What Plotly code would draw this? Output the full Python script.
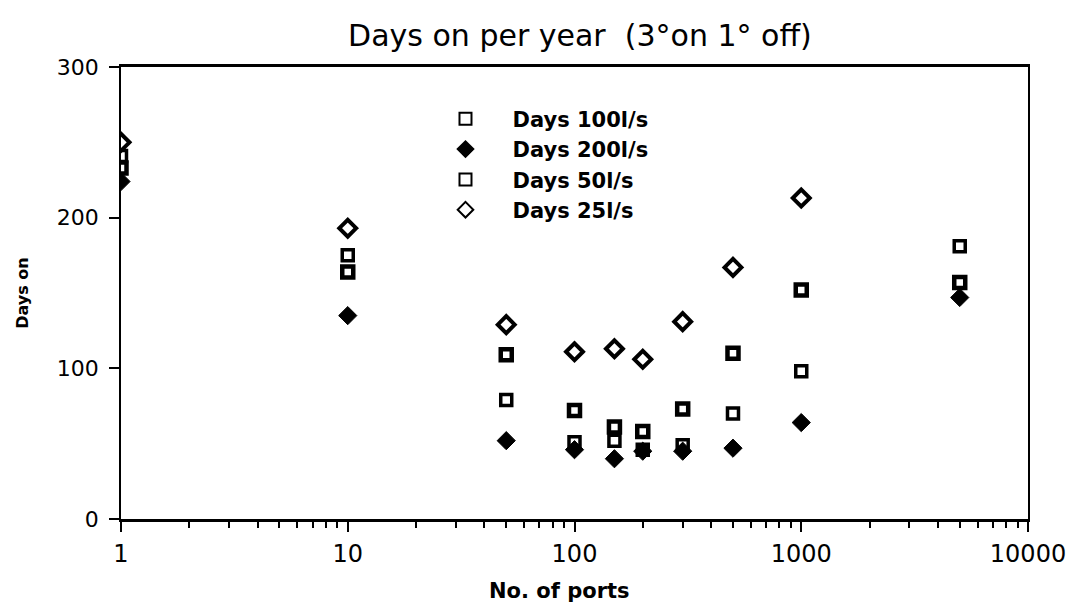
import plotly.graph_objects as go

ports = [1, 10, 50, 100, 150, 200, 300, 500, 1000, 5000]
days_100 = [241, 175, 79, 51, 52, 46, 49, 70, 98, 181]
days_200 = [224, 135, 52, 46, 40, 45, 45, 47, 64, 147]
days_50 = [233, 164, 109, 72, 61, 58, 73, 110, 152, 157]
days_25 = [250, 193, 129, 111, 113, 106, 131, 167, 213, None]

x_ticks = [1, 10, 100, 1000, 10000]
x_ticklabels = ["1", "10", "100", "1000", "10000"]
y_ticks = [0, 100, 200, 300]

font_family = "DejaVu Sans, Liberation Sans, Arial, sans-serif"

fig = go.Figure()
fig.add_trace(go.Scatter(
    x=ports, y=days_100, mode="markers", name="Days 100l/s",
    marker=dict(symbol="square", size=11, color="white",
                line=dict(color="black", width=3.5))))
fig.add_trace(go.Scatter(
    x=ports, y=days_200, mode="markers", name="Days 200l/s",
    marker=dict(symbol="diamond", size=14, color="black",
                line=dict(color="black", width=1))))
fig.add_trace(go.Scatter(
    x=ports, y=days_50, mode="markers", name="Days 50l/s",
    marker=dict(symbol="square", size=11, color="white",
                line=dict(color="black", width=4.5))))
fig.add_trace(go.Scatter(
    x=ports, y=days_25, mode="markers", name="Days 25l/s",
    marker=dict(symbol="diamond", size=13, color="white",
                line=dict(color="black", width=4))))

fig.update_layout(
    width=1078, height=608,
    margin=dict(l=121, r=48, t=67, b=89),
    paper_bgcolor="white", plot_bgcolor="white",
    font=dict(family=font_family, color="black", size=20),
    title=dict(text="Days on per year  (3°on 1° off)", x=0.538, xanchor="center",
               y=0.942, yanchor="middle", font=dict(size=30)),
    legend=dict(x=0.328, y=0.93, xanchor="left", yanchor="top",
                bgcolor="rgba(0,0,0,0)", font=dict(size=21, weight="bold"),
                tracegroupgap=0, itemsizing="constant", itemwidth=84),
    showlegend=True,
    annotations=[dict(text="<b>No. of ports</b>", xref="paper", yref="paper",
                      x=0.484, y=-0.16, xanchor="center", yanchor="middle",
                      showarrow=False, font=dict(size=21))],
)
fig.update_xaxes(
    type="log", range=[0, 4],
    tickvals=x_ticks, ticktext=x_ticklabels,
    ticks="outside", ticklen=10, tickwidth=2, tickcolor="black",
    ticklabelstandoff=1,
    showline=True, linecolor="black", linewidth=3, mirror=True,
    showgrid=False, zeroline=False,
    tickfont=dict(size=24),
    minor=dict(ticks="outside", ticklen=6, tickwidth=1.5, tickcolor="black",
               showgrid=False, dtick="D1"),
)
fig.update_yaxes(
    range=[0, 300], tickvals=y_ticks,
    ticks="outside", ticklen=10, tickwidth=1.5, tickcolor="black",
    ticklabelstandoff=6,
    showline=True, linecolor="black", linewidth=1.5, mirror=True,
    showgrid=False, zeroline=False,
    tickfont=dict(size=22),
    title=dict(text="<b>Days on</b>", font=dict(size=16), standoff=24),
)

fig.write_html("out.html")
